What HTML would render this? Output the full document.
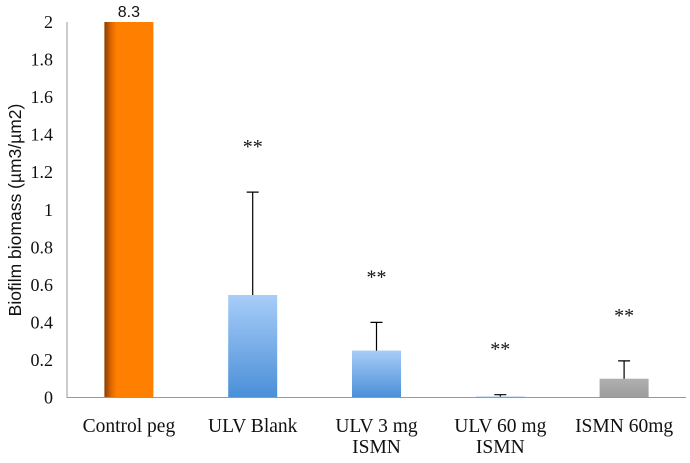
<!DOCTYPE html>
<html><head><meta charset="utf-8"><style>
body{margin:0;background:#fff;}
svg text{font-family:"Liberation Serif",serif;fill:#111;}
</style></head><body>
<svg id="chart" width="690" height="458" xmlns="http://www.w3.org/2000/svg">
<defs>
<linearGradient id="og" x1="0" x2="1" y1="0" y2="0"><stop offset="0" stop-color="#8a3c00"/><stop offset="0.14" stop-color="#e06800"/><stop offset="0.25" stop-color="#ff7f00"/><stop offset="1" stop-color="#ff7f00"/></linearGradient>
<linearGradient id="bg" x1="0" x2="0" y1="0" y2="1"><stop offset="0" stop-color="#a8cdf8"/><stop offset="1" stop-color="#4a8fd8"/></linearGradient>
<linearGradient id="gg" x1="0" x2="0" y1="0" y2="1"><stop offset="0" stop-color="#b0b0b0"/><stop offset="1" stop-color="#9c9c9c"/></linearGradient>
</defs>
<g id="bars"></g>
<text transform="translate(21,210) rotate(-90)" text-anchor="middle" font-size="17.5" style="font-family:'Liberation Sans',sans-serif">Biofilm biomass (µm3/µm2)</text>
</svg>
<script>
const categories=[["Control peg"],["ULV Blank"],["ULV 3 mg","ISMN"],["ULV 60 mg","ISMN"],["ISMN 60mg"]];
const values=[8.3,0.546,0.25,0.005,0.10];
const errors=[0,0.548,0.15,0.01,0.095];
const significance=["","**","**","**","**"];
const yTicks=[0,0.2,0.4,0.6,0.8,1,1.2,1.4,1.6,1.8,2];
const fills=["url(#og)","url(#bg)","url(#bg)","url(#bg)","url(#gg)"];
const NS="http://www.w3.org/2000/svg";
const svg=document.getElementById('chart');
const x0=67,x1=686,y0=397.5,ymax=2,ph=375.5;
const y=v=>y0-Math.min(v,ymax)/ymax*ph;
const bw=(x1-x0)/categories.length;
const xc=i=>x0+bw*(i+0.5);
function mk(t,a,p){const e=document.createElementNS(NS,t);for(const k in a)e.setAttribute(k,a[k]);(p||svg).appendChild(e);return e;}
const bars=document.getElementById('bars');
values.forEach((v,i)=>{
  const r=mk('rect',{x:xc(i)-24.5,y:y(v),width:49,height:y0-y(v),fill:fills[i]},bars);
  
  
  if(errors[i]>0){
    const t=y(v+errors[i]);
    const l=mk('path',{d:`M${xc(i)} ${y(v)}V${t}M${xc(i)-6} ${t}H${xc(i)+6}`,stroke:'#000','stroke-width':1.2,fill:'none'},bars);
    
    
  }
  if(significance[i]){
    const s=mk('text',{x:xc(i),y:y(v+errors[i])-39,'text-anchor':'middle','font-size':20},bars);
    s.textContent=significance[i];
    
    
  }
  if(v>ymax){
    const s=mk('text',{x:xc(i),y:17,'text-anchor':'middle','font-size':16,style:"font-family:'Liberation Sans',sans-serif"},bars);
    s.textContent=v;
    
    
  }
  categories[i].forEach((ln,j)=>{
    const c=mk('text',{x:xc(i),y:432+j*21,'text-anchor':'middle','font-size':19.5});
    c.textContent=ln;
    
    
  });
});
yTicks.forEach(t=>{
  const e=mk('text',{x:53,y:y(t)+6,'text-anchor':'end','font-size':18});
  e.textContent=t;
  
  
});
const ax=mk('path',{d:`M${x0} ${y(ymax)}V${y0}H${x1}`,stroke:'#999','stroke-width':1,fill:'none'});


</script>
</body></html>
